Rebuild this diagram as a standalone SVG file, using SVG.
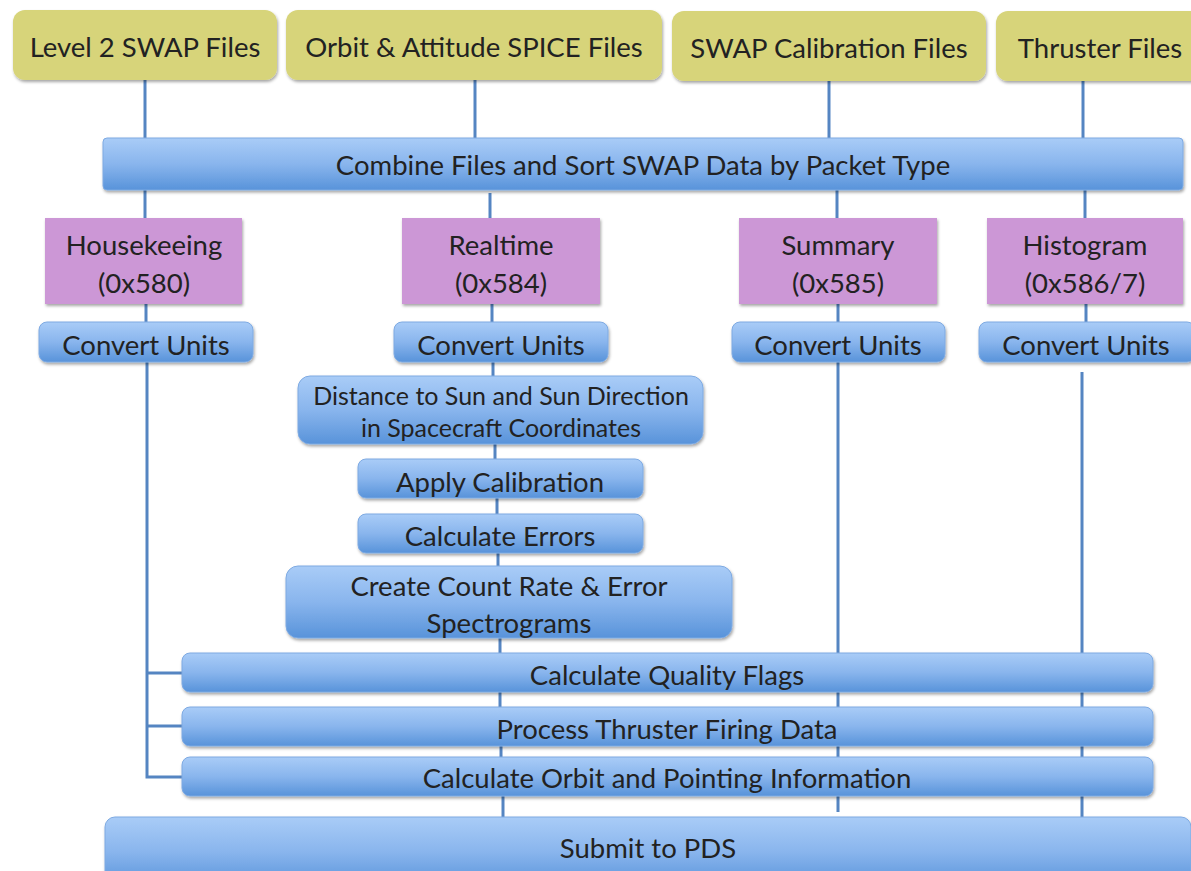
<svg xmlns="http://www.w3.org/2000/svg" width="1191" height="871" viewBox="0 0 1191 871">
<defs>
<linearGradient id="blue" x1="0" y1="0" x2="0" y2="1">
<stop offset="0" stop-color="#a9ccf7"/>
<stop offset="0.5" stop-color="#89b5ed"/>
<stop offset="1" stop-color="#5893da"/>
</linearGradient>
<filter id="sh" x="-10%" y="-20%" width="120%" height="160%">
<feDropShadow dx="1" dy="2" stdDeviation="1.5" flood-color="#000" flood-opacity="0.35"/>
</filter>
</defs>
<style>
.y{fill:#d7d47a;filter:url(#sh)}
.p{fill:#cc97d6;filter:url(#sh)}
.b{fill:url(#blue);stroke:#7eaae2;stroke-width:1;filter:url(#sh)}
.t{font-family:Lato,"Open Sans",sans-serif;font-size:27.5px;fill:#222;text-anchor:middle}
.s{font-size:25px}
.c line,.c polyline{stroke:#5585c2;stroke-width:3;fill:none}
</style>
<rect width="1191" height="871" fill="#fff"/>
<g class="c" id="connectors">
<line x1="145" y1="80" x2="145" y2="140"/>
<line x1="475" y1="80" x2="475" y2="140"/>
<line x1="829" y1="80" x2="829" y2="140"/>
<line x1="1083" y1="80" x2="1083" y2="140"/>
<line x1="145" y1="188" x2="145" y2="220"/>
<line x1="490" y1="193" x2="490" y2="220"/>
<line x1="837" y1="188" x2="837" y2="220"/>
<line x1="1085" y1="188" x2="1085" y2="220"/>
<line x1="146" y1="302" x2="146" y2="324"/>
<line x1="492" y1="302" x2="492" y2="324"/>
<line x1="838" y1="302" x2="838" y2="324"/>
<line x1="1086" y1="302" x2="1086" y2="324"/>
<polyline points="147,360 147,777 184,777"/>
<line x1="147" y1="673" x2="184" y2="673"/>
<line x1="147" y1="726" x2="184" y2="726"/>
<line x1="493" y1="360" x2="493" y2="378"/>
<line x1="495" y1="442" x2="495" y2="461"/>
<line x1="497" y1="496" x2="497" y2="516"/>
<line x1="498" y1="551" x2="498" y2="568"/>
<line x1="500" y1="636" x2="500" y2="655"/>
<line x1="500" y1="690" x2="500" y2="709"/>
<line x1="501" y1="744" x2="501" y2="759"/>
<line x1="503" y1="794" x2="503" y2="819"/>
<line x1="838" y1="360" x2="838" y2="812"/>
<line x1="1082" y1="372" x2="1082" y2="819"/>
</g>
<g id="n-level2"><rect class="y" x="13" y="10" width="264" height="70" rx="12"/><text class="t" x="145" y="57">Level 2 SWAP Files</text></g>
<g id="n-orbit"><rect class="y" x="286" y="10" width="376" height="70" rx="12"/><text class="t" x="474" y="57">Orbit &amp; Attitude SPICE Files</text></g>
<g id="n-calib"><rect class="y" x="672" y="11" width="314" height="70" rx="12"/><text class="t" x="829" y="58">SWAP Calibration Files</text></g>
<g id="n-thruster"><rect class="y" x="996" y="11" width="210" height="70" rx="12"/><text class="t" x="1100" y="58">Thruster Files</text></g>
<g id="n-combine"><rect class="b" x="103" y="138" width="1080" height="52" rx="4"/><text class="t" x="643" y="175">Combine Files and Sort SWAP Data by Packet Type</text></g>
<g id="n-hk"><rect class="p" x="45" y="218" width="197" height="86"/><text class="t" x="144" y="255">Housekeeing</text><text class="t" x="144" y="293">(0x580)</text></g>
<g id="n-rt"><rect class="p" x="402" y="218" width="198" height="86"/><text class="t" x="501" y="255">Realtime</text><text class="t" x="501" y="293">(0x584)</text></g>
<g id="n-sum"><rect class="p" x="739" y="218" width="198" height="86"/><text class="t" x="838" y="255">Summary</text><text class="t" x="838" y="293">(0x585)</text></g>
<g id="n-hist"><rect class="p" x="987" y="218" width="196" height="86"/><text class="t" x="1085" y="255">Histogram</text><text class="t" x="1085" y="293">(0x586/7)</text></g>
<g id="n-cu-hk"><rect class="b" x="39" y="322" width="214" height="40" rx="8"/><text class="t" x="146" y="355">Convert Units</text></g>
<g id="n-cu-rt"><rect class="b" x="394" y="322" width="214" height="40" rx="8"/><text class="t" x="501" y="355">Convert Units</text></g>
<g id="n-cu-sum"><rect class="b" x="732" y="322" width="213" height="40" rx="8"/><text class="t" x="838" y="355">Convert Units</text></g>
<g id="n-cu-hist"><rect class="b" x="979" y="322" width="216" height="40" rx="8"/><text class="t" x="1086" y="355">Convert Units</text></g>
<g id="n-dist"><rect class="b" x="298" y="376" width="405" height="68" rx="12"/><text class="t s" x="501" y="405">Distance to Sun and Sun Direction</text><text class="t s" x="501" y="437">in Spacecraft Coordinates</text></g>
<g id="n-apply"><rect class="b" x="358" y="459" width="285" height="39" rx="8"/><text class="t" x="500" y="492">Apply Calibration</text></g>
<g id="n-err"><rect class="b" x="358" y="514" width="285" height="39" rx="8"/><text class="t" x="500" y="546">Calculate Errors</text></g>
<g id="n-create"><rect class="b" x="286" y="566" width="446" height="72" rx="12"/><text class="t" x="509" y="596">Create Count Rate &amp; Error</text><text class="t" x="509" y="633">Spectrograms</text></g>
<g id="n-quality"><rect class="b" x="182" y="653" width="971" height="39" rx="8"/><text class="t" x="667" y="685">Calculate Quality Flags</text></g>
<g id="n-thrust"><rect class="b" x="182" y="707" width="971" height="39" rx="8"/><text class="t" x="667" y="739">Process Thruster Firing Data</text></g>
<g id="n-orbitinfo"><rect class="b" x="182" y="757" width="971" height="39" rx="8"/><text class="t" x="667" y="788">Calculate Orbit and Pointing Information</text></g>
<g id="n-pds"><rect class="b" x="105" y="817" width="1086" height="70" rx="10"/><text class="t" x="648" y="858">Submit to PDS</text></g>
</svg>
